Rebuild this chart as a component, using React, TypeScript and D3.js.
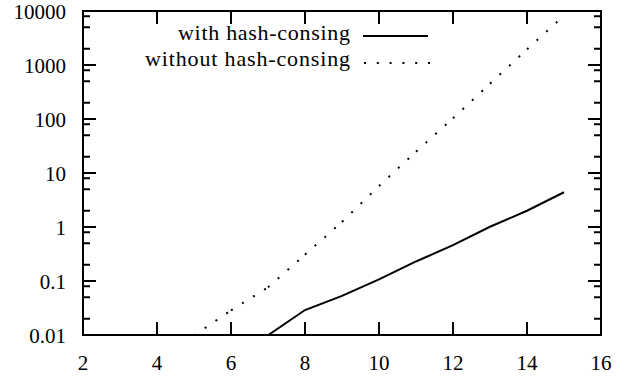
import React from 'react';
import * as d3 from 'd3';

// problem size on x, time (log) on y
const withX = [7, 8, 9, 10, 11, 12, 13, 14, 15];
const withY = [0.0099, 0.029, 0.053, 0.107, 0.23, 0.46, 1.01, 2.0, 4.4];
const withoutX = [5, 6, 7, 8, 9, 10, 11, 12, 13, 14, 15];
const withoutY = [0.0098, 0.0286, 0.0764, 0.307, 1.24, 5.74, 24.8, 103, 451, 1950, 8180];

const xTicks = [2, 4, 6, 8, 10, 12, 14, 16];
const yTicks = [0.01, 0.1, 1, 10, 100, 1000, 10000];
const yTickLabels = ['0.01', '0.1', '1', '10', '100', '1000', '10000'];
const minorMult = [2, 5, 8];
const seriesNames = ['with hash-consing', 'without hash-consing'];

const W = 631;
const H = 377;
const left = 83, right = 601, top = 11, bottom = 335;
const font = 'Liberation Serif';

const App = () => {
  const x = d3.scaleLinear().domain([2, 16]).range([left, right]);
  const y = d3.scaleLog().domain([0.01, 10000]).range([bottom, top]);

  const minorTicks: number[] = [];
  yTicks.slice(0, -1).forEach(t => minorMult.forEach(m => minorTicks.push(t * m)));

  const line = d3.line<number>()
    .x((d, i) => x(withX[i]))
    .y(d => y(d));

  // gnuplot restarts the dot pattern on each segment
  const dotSegs = d3.pairs(withoutX.map((v, i) => [x(v), y(withoutY[i])]));

  const majorLen = 13, minorLen = 7;

  return (
    <svg width={W} height={H} style={{ position: 'absolute', left: 0, top: 0, background: '#fff' }}>
      <defs>
        <clipPath id="plot">
          <rect x={left} y={top} width={right - left} height={bottom - top} />
        </clipPath>
      </defs>
      <rect width={W} height={H} fill="#fff" />

      {/* y ticks, both sides */}
      <g stroke="#000" strokeWidth={2}>
        {yTicks.map(t => (
          <g key={'y' + t}>
            <line x1={left} x2={left + majorLen} y1={y(t)} y2={y(t)} />
            <line x1={right} x2={right - majorLen} y1={y(t)} y2={y(t)} />
          </g>
        ))}
        {minorTicks.map(t => (
          <g key={'m' + t}>
            <line x1={left} x2={left + minorLen} y1={y(t)} y2={y(t)} />
            <line x1={right} x2={right - minorLen} y1={y(t)} y2={y(t)} />
          </g>
        ))}
        {xTicks.map(t => (
          <g key={'x' + t}>
            <line x1={x(t)} x2={x(t)} y1={bottom} y2={bottom - majorLen} />
            <line x1={x(t)} x2={x(t)} y1={top} y2={top + majorLen} />
          </g>
        ))}
      </g>

      <g fontFamily={font} fontSize={21} fill="#000">
        {yTicks.map((t, i) => (
          <text key={'yl' + t} x={left - 17} y={y(t) + 7.5} textAnchor="end">{yTickLabels[i]}</text>
        ))}
        {xTicks.map(t => (
          <text key={'xl' + t} x={x(t)} y={370} textAnchor="middle">{t}</text>
        ))}
        {/* key */}
        <text x={350} y={40} textAnchor="end" fontSize={22} textLength={172}>{seriesNames[0]}</text>
        <text x={350} y={66} textAnchor="end" fontSize={22} textLength={205}>{seriesNames[1]}</text>
      </g>

      <g clipPath="url(#plot)">
        <path d={line(withY) || ''} fill="none" stroke="#000" strokeWidth={2} />
        {dotSegs.map(([a, b], i) => (
          <line key={'d' + i} x1={a[0]} y1={a[1]} x2={b[0]} y2={b[1]}
            stroke="#000" strokeWidth={2} strokeDasharray="2 11" />
        ))}
      </g>

      <line x1={363} x2={428} y1={36} y2={36} stroke="#000" strokeWidth={2} />
      <line x1={364} x2={431} y1={63} y2={63} stroke="#000" strokeWidth={2} strokeDasharray="2 10.8" />

      <rect x={left} y={top} width={right - left} height={bottom - top} fill="none" stroke="#000" strokeWidth={2} />
    </svg>
  );
};

export default App;
